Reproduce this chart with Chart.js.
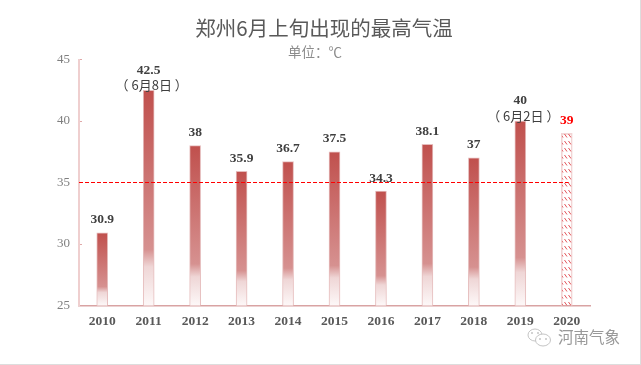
<!DOCTYPE html>
<html>
<head>
<meta charset="utf-8">
<title>郑州6月上旬出现的最高气温</title>
<script src="https://cdn.jsdelivr.net/npm/chart.js@4"></script>
<style>
    html, body { margin: 0; padding: 0; background: #fff; }
    #wrap { width: 640px; height: 364px; border-right: 1px solid #ddd; border-bottom: 1px solid #ddd; }
    canvas { display: block; }
</style>
</head>
<body>
<div id="wrap"><canvas id="chart" width="640" height="364"></canvas></div>
<script>
const titleText = "郑州6月上旬出现的最高气温";
const unitText = "单位：℃";
const watermarkText = "河南气象";

const years = ["2010", "2011", "2012", "2013", "2014", "2015", "2016", "2017", "2018", "2019", "2020"];
const maxTemps = [30.9, 42.5, 38, 35.9, 36.7, 37.5, 34.3, 38.1, 37, 40, 39];
const dateNotes = ["", "（ 6月8日 ）", "", "", "", "", "", "", "", "（ 6月2日 ）", ""];
const yTicks = [25, 30, 35, 40, 45];
const referenceTemp = 35;
const forecastYear = "2020";

const SERIF = '"Liberation Serif", serif';
const SANS = '"Noto Sans CJK SC", sans-serif';

const ctx = document.getElementById("chart").getContext("2d");

// Hatch for the 2020 bar
function makeHatch() {
    const tile = document.createElement("canvas");
    tile.width = 4;
    tile.height = 7;
    const t = tile.getContext("2d");
    t.strokeStyle = "#e2545a";
    t.lineWidth = 1;
    t.beginPath();
    t.moveTo(0.5, 1);
    t.lineTo(3, 4.5);
    t.stroke();
    return ctx.createPattern(tile, "repeat");
}
const hatch = makeHatch();

function barFill(c) {
    if (years[c.dataIndex] === forecastYear) return hatch;
    const yScale = c.chart.scales.y;
    if (!yScale || c.raw === undefined) return "#c0504d";
    const top = yScale.getPixelForValue(c.raw);
    // scale has no size yet on the first options pass
    if (!isFinite(top) || !isFinite(yScale.bottom)) return "#c0504d";
    const g = ctx.createLinearGradient(0, top, 0, yScale.bottom);
    g.addColorStop(0, "#c0504d");
    g.addColorStop(0.74, "#d69190");
    g.addColorStop(0.82, "#efd6d6");
    g.addColorStop(1, "#fdf8f8");
    return g;
}

function drawWatermark(c) {
    c.save();
    c.strokeStyle = "#c4c4c4";
    c.fillStyle = "#fff";
    c.lineWidth = 1;
    c.beginPath();
    c.ellipse(535, 335, 7, 6, 0, 0, Math.PI * 2);
    c.fill();
    c.stroke();
    c.beginPath();
    c.ellipse(543, 340, 7.5, 6, 0, 0, Math.PI * 2);
    c.fill();
    c.stroke();
    c.fillStyle = "#c4c4c4";
    [[532, 333], [538, 333], [540, 339], [546, 339]].forEach(p => {
        c.beginPath();
        c.arc(p[0], p[1], 1, 0, Math.PI * 2);
        c.fill();
    });
    c.fillStyle = "#999999";
    c.font = "15.5px " + SANS;
    c.textAlign = "left";
    c.textBaseline = "middle";
    c.fillText(watermarkText, 558, 337);
    c.restore();
}

// Title, dashed 35 line, value labels and the watermark
const overlay = {
    id: "overlay",
    afterDatasetsDraw(chart) {
        const c = chart.ctx;
        const x = chart.scales.x;
        const y = chart.scales.y;
        c.save();

        c.textAlign = "center";
        c.textBaseline = "middle";
        c.fillStyle = "#595959";
        c.font = "20.5px " + SANS;
        c.fillText(titleText, 324, 28);
        c.fillStyle = "#8c8c8c";
        c.font = "13.5px " + SANS;
        c.fillText(unitText, 315, 52);

        // reference line stops at the 2020 bar
        const lineY = y.getPixelForValue(referenceTemp);
        c.strokeStyle = "#ff0000";
        c.lineWidth = 1;
        c.setLineDash([4, 2]);
        c.beginPath();
        c.moveTo(y.right, lineY);
        c.lineTo(x.getPixelForValue(years.indexOf(forecastYear)) + 2, lineY);
        c.stroke();
        c.setLineDash([]);

        maxTemps.forEach((v, i) => {
            const px = x.getPixelForValue(i);
            const top = y.getPixelForValue(v);
            const note = dateNotes[i];
            c.font = "bold 13.5px " + SERIF;
            c.fillStyle = years[i] === forecastYear ? "#ff0000" : "#404040";
            c.fillText(String(v), px, top - (note ? 20 : 13));
            if (note) {
                c.font = "13px " + SANS;
                c.fillStyle = "#404040";
                c.fillText(note, px + 3, top - 5);
            }
        });

        c.restore();
        drawWatermark(c);
    }
};

new Chart(ctx, {
    type: "bar",
    data: {
        labels: years,
        datasets: [{
            label: "最高气温",
            data: maxTemps,
            backgroundColor: barFill,
            borderColor: c => years[c.dataIndex] === forecastYear ? "#f2d5d5" : "#e6bdbd",
            borderWidth: 1,
            borderSkipped: "bottom",
            barThickness: 11
        }]
    },
    options: {
        responsive: false,
        animation: false,
        layout: { padding: { top: 59.5, right: 50, bottom: 0, left: 0 } },
        plugins: {
            legend: { display: false },
            tooltip: { enabled: false }
        },
        scales: {
            x: {
                afterFit(scale) { scale.height = 58.5; },
                grid: { display: false, drawTicks: false },
                border: { color: "#d9a3a3", width: 1.5 },
                ticks: {
                    padding: 8,
                    maxRotation: 0,
                    color: "#595959",
                    font: { family: SERIF, size: 13.5, weight: "bold" }
                }
            },
            y: {
                min: 25,
                max: 45,
                afterFit(scale) { scale.width = 79; },
                afterBuildTicks(scale) { scale.ticks = yTicks.map(v => ({ value: v })); },
                grid: { drawOnChartArea: false, tickLength: -3, color: "#e0a8a8" },
                border: { color: "#efcfcf", width: 2 },
                ticks: {
                    padding: 12,
                    color: "#7f7f7f",
                    font: { family: SERIF, size: 13 }
                }
            }
        }
    },
    plugins: [overlay]
});
</script>
</body>
</html>
